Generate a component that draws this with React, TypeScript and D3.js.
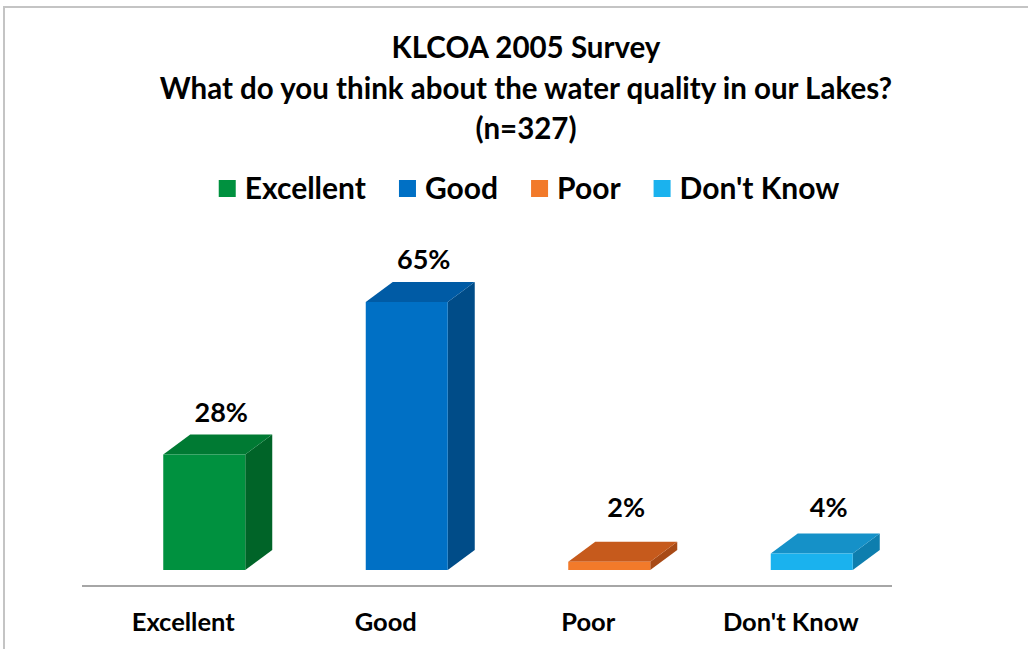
import React from "react";
import * as d3 from "d3";

const categories = ["Excellent", "Good", "Poor", "Don't Know"];
const values = [28, 65, 2, 4];
const valueLabels = ["28%", "65%", "2%", "4%"];
const frontColors = ["#00913F", "#0070C5", "#F27A2A", "#1AB2EE"];
const topColors = ["#007A33", "#005BA5", "#C65A1C", "#1591C8"];
const sideColors = ["#006428", "#004C88", "#A84A16", "#0E7EAE"];
const titleLines = [
  "KLCOA 2005 Survey",
  "What do you think about the water quality in our Lakes?",
  "(n=327)",
];

const W = 1028;
const H = 649;
const FONT = "Lato, 'Open Sans', sans-serif";

function measure(text: string, font: string): number {
  if (typeof document === "undefined") return text.length * 14;
  const c = document.createElement("canvas");
  const ctx = c.getContext("2d");
  if (!ctx) return text.length * 14;
  ctx.font = font;
  return ctx.measureText(text).width;
}

export default function App() {
  const baseY = 570;
  const dx = 27;
  const dy = 20;
  const barW = 82;

  const x = d3.scaleBand<string>().domain(categories).range([82, 892]).padding(0);
  const y = d3.scaleLinear().domain([0, 70]).range([baseY, baseY - (70 * 268) / 65]);

  // legend layout
  const legendFontSize = 30;
  const legendFont = `bold ${legendFontSize}px Lato`;
  const sq = 17;
  const sqGap = 9;
  const itemGap = 33;
  const widths = categories.map((c) => measure(c, legendFont));
  const total =
    widths.reduce((a, b) => a + b, 0) + categories.length * (sq + sqGap) + (categories.length - 1) * itemGap;
  let cursor = 529 - total / 2;
  const legendItems = categories.map((c, i) => {
    const item = { c, x: cursor, color: frontColors[i] };
    cursor += sq + sqGap + widths[i] + itemGap;
    return item;
  });

  return (
    <svg
      width={W}
      height={H}
      style={{ position: "absolute", left: 0, top: 0, background: "#fff" }}
      fontFamily={FONT}
    >
      <rect x={0} y={0} width={W} height={H} fill="#fff" />
      <rect x={4} y={7} width={W + 10} height={H + 10} fill="none" stroke="#C4C4C4" strokeWidth={2} />

      {titleLines.map((t, i) => (
        <text
          key={i}
          x={526}
          y={58 + i * 40.5}
          textAnchor="middle"
          fontSize={29.5}
          fontWeight="bold"
          fill="#000"
        >
          {t}
        </text>
      ))}

      {legendItems.map((it, i) => (
        <g key={it.c}>
          <rect x={it.x} y={180} width={sq} height={sq} fill={it.color} />
          <text x={it.x + sq + sqGap} y={198.5} fontSize={legendFontSize} fontWeight="bold" fill="#000">
            {it.c}
          </text>
        </g>
      ))}

      <line x1={82} x2={892} y1={586} y2={586} stroke="#A6A6A6" strokeWidth={2} />

      {categories.map((c, i) => {
        const cx = (x(c) as number) + x.bandwidth() / 2;
        const L = cx - 20;
        const R = L + barW;
        const yv = y(values[i]);
        const front = `M${L},${yv}L${R},${yv}L${R},${baseY}L${L},${baseY}Z`;
        const top = `M${L},${yv}L${L + dx},${yv - dy}L${R + dx},${yv - dy}L${R},${yv}Z`;
        const side = `M${R},${yv}L${R + dx},${yv - dy}L${R + dx},${baseY - dy}L${R},${baseY}Z`;
        const labelY = Math.min(yv - dy - 13, baseY - 53);
        return (
          <g key={c}>
            <path d={side} fill={sideColors[i]} />
            <path d={top} fill={topColors[i]} />
            <path d={front} fill={frontColors[i]} />
            <text x={cx + 38} y={labelY} textAnchor="middle" fontSize={27} fontWeight="bold" fill="#000">
              {valueLabels[i]}
            </text>
            <text x={cx} y={631} textAnchor="middle" fontSize={25.5} fontWeight="bold" fill="#000">
              {c}
            </text>
          </g>
        );
      })}
    </svg>
  );
}
